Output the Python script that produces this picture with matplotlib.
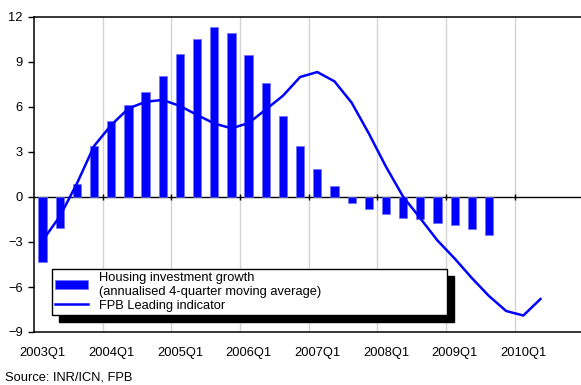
import numpy as np
import matplotlib
matplotlib.use('Agg')
import matplotlib.pyplot as plt

plt.rcParams['font.family'] = ['Liberation Sans', 'DejaVu Sans']

# quarters 2003Q1 .. 2010Q2
quarters = ['%dQ%d' % (y, q) for y in range(2003, 2011) for q in range(1, 5)][:30]

# housing investment growth (annualised 4-quarter moving average), 2003Q1 .. 2009Q3
housing = [-4.3, -2.1, 0.85, 3.42, 5.07, 6.15, 7.0, 8.07,
           9.55, 10.53, 11.33, 10.95, 9.47, 7.6, 5.38, 3.43,
           1.87, 0.73, -0.38, -0.82, -1.11, -1.38, -1.49, -1.71,
           -1.87, -2.11, -2.51]

# FPB leading indicator, 2003Q1 .. 2010Q2
leading = [-2.9, -1.3, 0.9, 3.4, 4.8, 5.9, 6.35, 6.47,
           6.07, 5.47, 4.9, 4.58, 4.93, 5.83, 6.75, 8.0,
           8.33, 7.71, 6.29, 4.24, 2.02, 0.02, -1.42, -2.9,
           -4.1, -5.4, -6.6, -7.6, -7.9, -6.8]

blue = '#0000ff'

fig = plt.figure(figsize=(5.81, 3.85), dpi=100)
ax = fig.add_axes([34 / 581, 53 / 385, 547 / 581, 315 / 385])

xb = np.arange(len(housing))
xl = np.arange(len(leading))
bars = ax.bar(xb, housing, width=0.48, color=blue, edgecolor='#7070ff', linewidth=0.5,
              label='Housing investment growth\n(annualised 4-quarter moving average)', zorder=3)
line, = ax.plot(xl, leading, color=blue, linewidth=1.8, label='FPB Leading indicator', zorder=4)

ax.axhline(0, color='black', linewidth=1, zorder=2)

ax.set_xlim(-0.5, 31.36)
ax.set_ylim(-9, 12)
ax.set_yticks(np.arange(-9, 13, 3))

ax.set_xticks(xl[::4])
ax.set_xticklabels(quarters[::4])
ax.set_xticks(np.arange(3.5, 31, 4), minor=True)
ax.tick_params(axis='x', which='both', length=0, pad=11, labelsize=9.3)
ax.tick_params(axis='y', length=4, width=1, pad=4, labelsize=9.3)
ax.grid(axis='x', which='minor', color='#d4d4d4', linewidth=1, zorder=0)
ax.set_axisbelow(True)

# year tick marks on the zero line
ax.plot(np.arange(3.5, 31, 4), np.zeros(7), linestyle='none', marker='|',
        markersize=5, markeredgewidth=1, color='black', zorder=5)

for side in ['left', 'top', 'bottom']:
    ax.spines[side].set_linewidth(1.1)
ax.spines['right'].set_visible(False)

leg = ax.legend(handles=[bars, line], loc='lower left',
                bbox_to_anchor=(18 / 547, 17 / 315, 395 / 547, 49 / 315),
                mode='expand', fancybox=False, framealpha=1, edgecolor='black',
                fontsize=9.3, handlelength=2.5, handletextpad=0.9, borderpad=0.25,
                labelspacing=0.15, borderaxespad=0,
                shadow={'ox': 5, 'oy': -5, 'color': 'black', 'alpha': 1})
leg.get_frame().set_linewidth(1)

fig.text(5 / 581, 1 - 378 / 385, 'Source: INR/ICN, FPB', fontsize=9.3, va='center', ha='left')

fig.savefig('out.png', dpi=100)
